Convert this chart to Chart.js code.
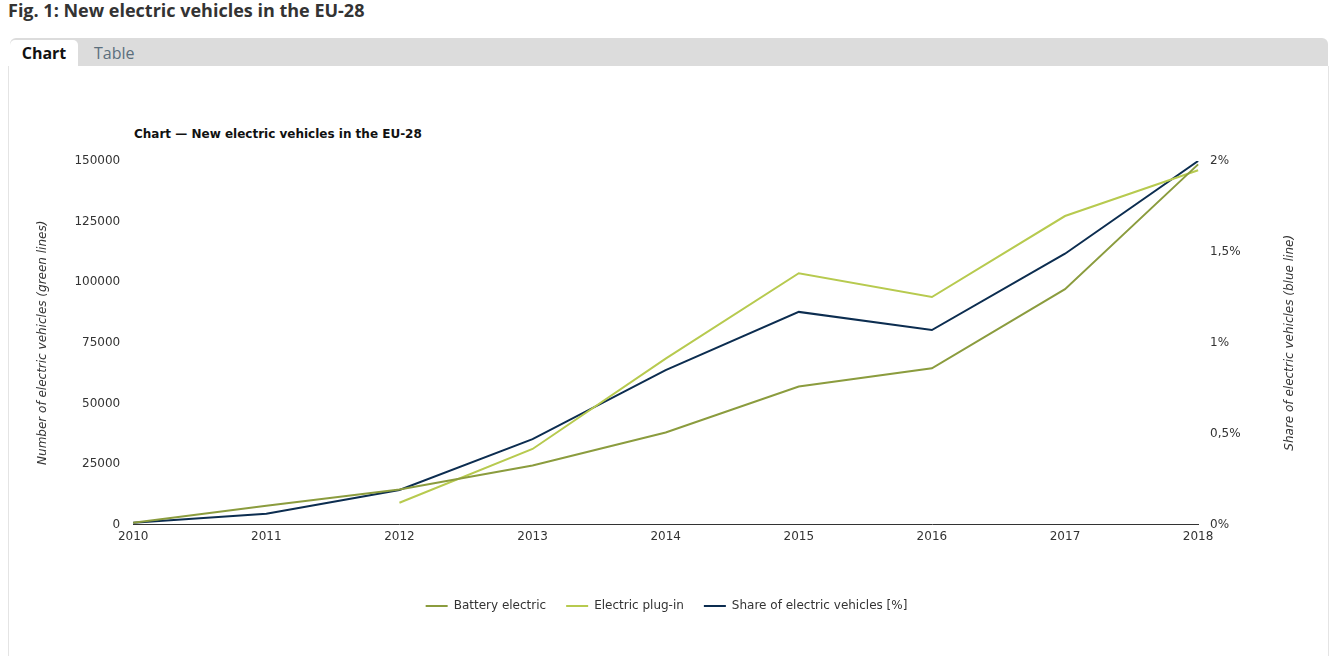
<!DOCTYPE html>
<html>
<head>
<meta charset="utf-8">
<script src="https://cdn.jsdelivr.net/npm/chart.js@4.4.1/dist/chart.umd.min.js"></script>
<style>
  html, body { margin: 0; padding: 0; background: #fff; width: 1342px; height: 656px; overflow: hidden; }
  #fig { position: absolute; left: 8px; top: -2px; font-family: "Open Sans", sans-serif; font-weight: 700; font-size: 18px; color: #333; }
  #tabbar { position: absolute; left: 10px; top: 38px; width: 1318px; height: 28px; background: #dcdcdc; border-radius: 6px 6px 0 0; }
  #tabChart { position: absolute; left: 10px; top: 40px; width: 68px; height: 26px; background: #fff; border-radius: 5px 5px 0 0;
     font-family: "Open Sans", sans-serif; font-weight: 700; font-size: 16px; color: #111; text-align: center; line-height: 26px; }
  #tabTable { position: absolute; left: 94px; top: 40px; height: 26px; font-family: "Open Sans", sans-serif; font-size: 16px; color: #5b6f7d; line-height: 26px; }
  #panel { position: absolute; left: 8px; top: 66px; width: 1319px; height: 600px; border-left: 1px solid #e4e4e4; border-right: 1px solid #e4e4e4; }
  #ctitle { position: absolute; left: 134px; top: 127px; font-family: "DejaVu Sans", Verdana, sans-serif; font-weight: 700; font-size: 12px; color: #111; }
  #wrap { position: absolute; left: 0; top: 0; width: 1342px; height: 656px; }
</style>
</head>
<body>
<div id="fig">Fig. 1: New electric vehicles in the EU-28</div>
<div id="tabbar"></div>
<div id="tabChart">Chart</div>
<div id="tabTable">Table</div>
<div id="panel"></div>
<div id="ctitle">Chart — New electric vehicles in the EU-28</div>
<div id="wrap"><canvas id="c" width="1342" height="656"></canvas></div>
<script>
const years = ["2010","2011","2012","2013","2014","2015","2016","2017","2018"];
const batteryElectric = [800, 7800, 14500, 24400, 38000, 57000, 64500, 97100, 148600];
const electricPlugIn = [null, null, 9000, 31200, 68500, 103700, 93900, 127300, 146200];
const shareElectric = [0.01, 0.06, 0.19, 0.47, 0.85, 1.17, 1.07, 1.49, 2.0];
const leftTicks = [0, 25000, 50000, 75000, 100000, 125000, 150000];
const rightTicks = [0, 0.5, 1, 1.5, 2];
const rightTitle = 'Share of electric vehicles (blue line)';

const tickFont = { family: "'DejaVu Sans', Verdana, sans-serif", size: 12 };
const titleFont = { family: "'DejaVu Sans', Verdana, sans-serif", size: 12, style: 'italic' };

// Draw the right axis title reading bottom-to-top, like the left one
const rightTitlePlugin = {
  id: 'rightTitle',
  afterDraw(chart) {
    const s = chart.scales.y1, a = chart.chartArea, ctx = chart.ctx;
    const lh = titleFont.size * 1.2;
    ctx.save();
    ctx.translate(s.right - lh / 2, (a.top + a.bottom) / 2);
    ctx.rotate(-Math.PI / 2);
    ctx.font = "italic 12px 'DejaVu Sans', Verdana, sans-serif";
    ctx.fillStyle = '#333';
    ctx.textAlign = 'center';
    ctx.textBaseline = 'middle';
    ctx.fillText(rightTitle, 0, 0);
    ctx.restore();
  }
};

new Chart(document.getElementById('c'), {
  type: 'line',
  data: {
    labels: years,
    datasets: [
      { label: 'Battery electric', data: batteryElectric, borderColor: '#8b9c3e', backgroundColor: '#8b9c3e', yAxisID: 'y', borderWidth: 2, pointRadius: 0, tension: 0 },
      { label: 'Electric plug-in', data: electricPlugIn, borderColor: '#b7ca4f', backgroundColor: '#b7ca4f', yAxisID: 'y', borderWidth: 2, pointRadius: 0, tension: 0 },
      { label: 'Share of electric vehicles [%]', data: shareElectric, borderColor: '#0c2d50', backgroundColor: '#0c2d50', yAxisID: 'y1', borderWidth: 2, pointRadius: 0, tension: 0 }
    ]
  },
  plugins: [rightTitlePlugin],
  options: {
    responsive: false,
    animation: false,
    layout: { padding: { left: 36, right: 45, top: 161, bottom: 34 } },
    plugins: {
      legend: {
        position: 'bottom',
        labels: {
          usePointStyle: true, pointStyle: 'line', pointStyleWidth: 22, boxHeight: 12,
          color: '#333', font: tickFont, padding: 20
        }
      },
      tooltip: { enabled: false }
    },
    scales: {
      x: {
        offset: false,
        grid: { display: false, drawTicks: false },
        border: { display: true, color: '#333', width: 1 },
        ticks: { color: '#333', font: tickFont, padding: 5, maxRotation: 0 },
        afterFit(scale) { scale.height += 31; }
      },
      y: {
        position: 'left', min: 0, max: 150000,
        afterBuildTicks(scale) { scale.ticks = leftTicks.map(v => ({ value: v })); },
        grid: { display: false, drawTicks: false },
        border: { display: false },
        ticks: { color: '#333', font: tickFont, padding: 13, callback: v => String(v) },
        title: { display: true, text: 'Number of electric vehicles (green lines)', color: '#333', font: titleFont, padding: { top: 0, bottom: 11 } }
      },
      y1: {
        position: 'right', min: 0, max: 2,
        afterBuildTicks(scale) { scale.ticks = rightTicks.map(v => ({ value: v })); },
        grid: { display: false, drawTicks: false },
        border: { display: false },
        ticks: { color: '#333', font: tickFont, padding: 12, callback: v => String(v).replace('.', ',') + '%' },
        title: { display: true, text: rightTitle, color: 'rgba(0,0,0,0)', font: titleFont, padding: { top: 0, bottom: 30 } }
      }
    }
  }
});
</script>
</body>
</html>
